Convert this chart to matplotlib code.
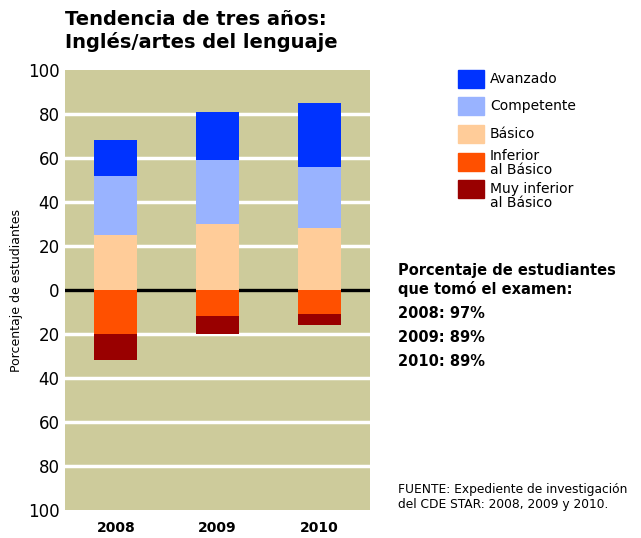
import matplotlib

matplotlib.use("Agg")
import matplotlib.pyplot as plt
from matplotlib.patches import Rectangle

years = ["2008", "2009", "2010"]
avanzado = [16, 22, 29]
competente = [27, 29, 28]
basico = [25, 30, 28]
inferior = [20, 12, 11]
muy_inferior = [12, 8, 5]

levels = ["Avanzado", "Competente", "Básico", "Inferior\nal Básico", "Muy inferior\nal Básico"]
COLOR = ["#0033ff", "#99b3ff", "#ffcc99", "#ff5000", "#990000"]
BG = "#cdcb9b"

tomo = ["2008: 97%", "2009: 89%", "2010: 89%"]

fig = plt.figure(figsize=(6.41, 5.38), dpi=100)
ax = fig.add_axes([65 / 641, 28 / 538, 305 / 641, 440 / 538])
ax.set_facecolor(BG)

x = range(len(years))
w = 0.42
# positive side stacked upward
b1 = basico
b2 = [a + b for a, b in zip(basico, competente)]
ax.bar(x, basico, w, color=COLOR[2], zorder=3)
ax.bar(x, competente, w, bottom=b1, color=COLOR[1], zorder=3)
ax.bar(x, avanzado, w, bottom=b2, color=COLOR[0], zorder=3)
# negative side stacked downward
ax.bar(x, [-v for v in inferior], w, color=COLOR[3], zorder=3)
ax.bar(x, [-v for v in muy_inferior], w, bottom=[-v for v in inferior],
       color=COLOR[4], zorder=3)

ax.set_xlim(-0.5, 2.5)
ax.set_ylim(-100, 100)
ticks = list(range(-100, 101, 20))
ax.set_yticks(ticks)
ax.set_yticklabels([str(abs(t)) for t in ticks], fontsize=12)
ax.set_xticks(list(x))
ax.set_xticklabels(years, fontsize=10, fontweight="bold")
ax.tick_params(length=0, pad=4)
ax.tick_params(axis="x", pad=8)
for t in ticks:
    if t not in (0, -100, 100):
        ax.axhline(t, color="white", lw=2.5, zorder=1)
ax.axhline(0, color="black", lw=2.4, zorder=2)
for s in ax.spines.values():
    s.set_visible(False)

fig.text(17 / 641, 1 - 290 / 538, "Porcentaje de estudiantes", rotation=90,
         ha="center", va="center", fontsize=9)

fig.text(65 / 641, 1 - 31 / 538, "Tendencia de tres años:\nInglés/artes del lenguaje",
         fontsize=14, fontweight="heavy", ha="left", va="center", linespacing=1.2)

# legend drawn by hand
patch_y = [79, 106, 134, 162, 189]
text_y = [79, 106, 134, 163, 196]
for lab, c, yp, yt in zip(levels, COLOR, patch_y, text_y):
    fig.patches.append(Rectangle((458 / 641, 1 - (yp + 9) / 538), 26 / 641, 18 / 538,
                                 transform=fig.transFigure, color=c))
    fig.text(490 / 641, 1 - yt / 538, lab, fontsize=10, ha="left", va="center",
             linespacing=0.95, fontweight="medium")

fig.text(398 / 641, 1 - 280 / 538, "Porcentaje de estudiantes\nque tomó el examen:",
         fontsize=10.5, fontweight="bold", ha="left", va="center", linespacing=1.2)
for i, s in enumerate(tomo):
    fig.text(398 / 641, 1 - (313 + 24.5 * i) / 538, s, fontsize=10.5,
             fontweight="bold", ha="left", va="center")

fig.text(398 / 641, 1 - 497 / 538,
         "FUENTE: Expediente de investigación\ndel CDE STAR: 2008, 2009 y 2010.",
         fontsize=8.8, ha="left", va="center", linespacing=1.2)

fig.savefig("out.png", dpi=100)
